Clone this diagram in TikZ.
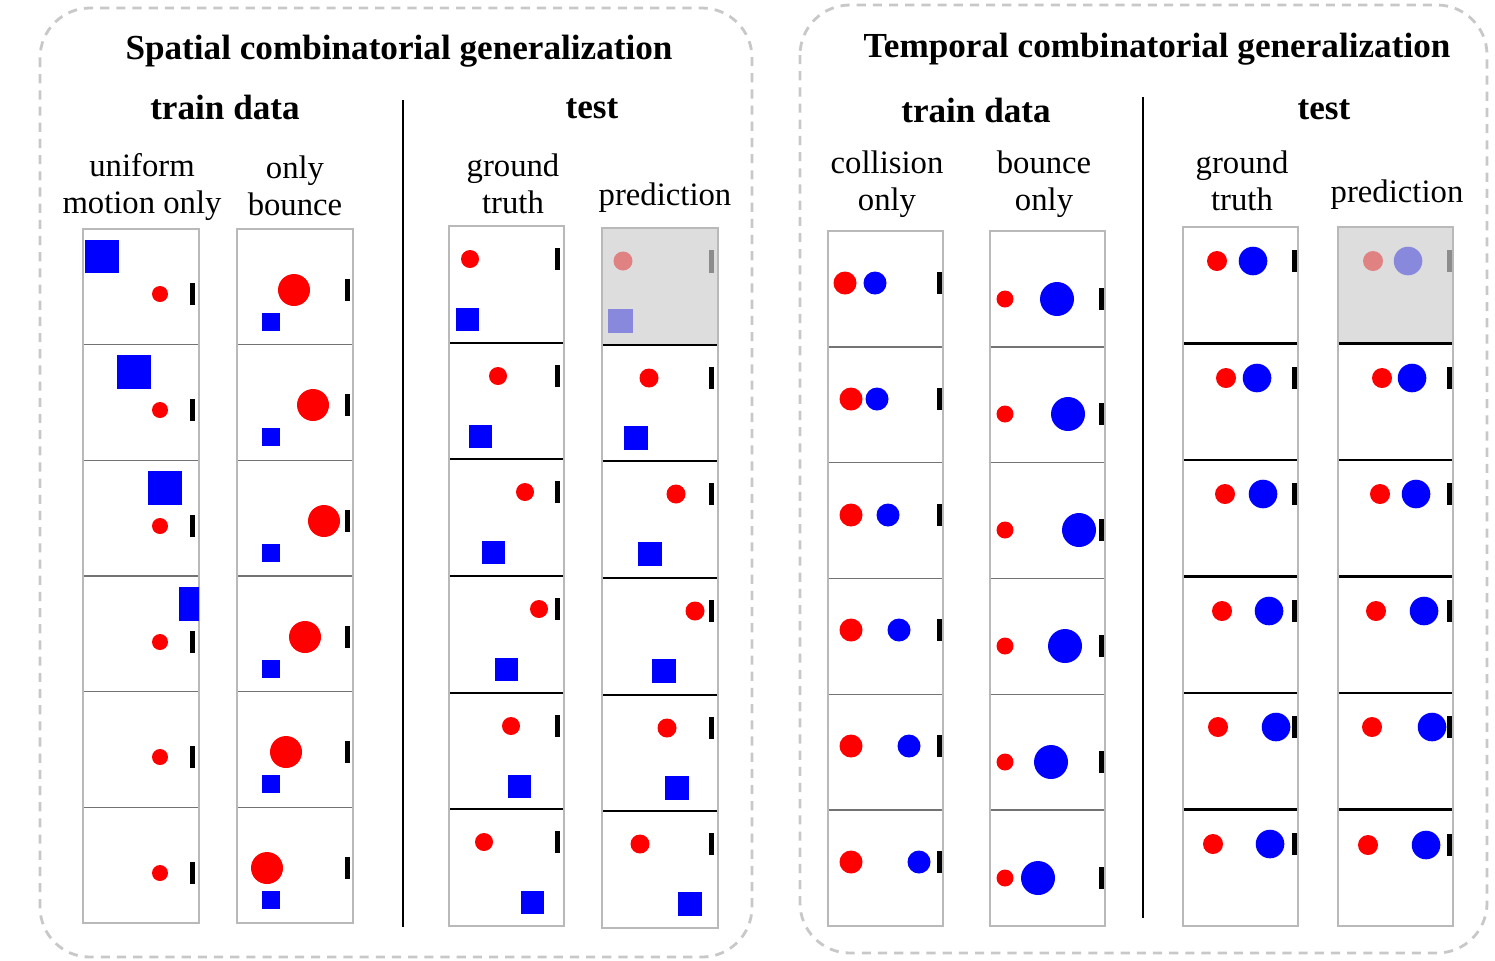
\documentclass[tikz,border=0pt]{standalone}
\usepackage{fontspec}
\setmainfont{Liberation Serif}
\usepackage{tikz}

\definecolor{framegray}{RGB}{185,185,185}
\definecolor{dashgray}{RGB}{200,200,200}
\definecolor{fadered}{RGB}{224,130,130}
\definecolor{fadeblue}{RGB}{136,136,221}
\definecolor{predbg}{RGB}{221,221,221}

\begin{document}
\begin{tikzpicture}[x=0.01cm, y=-0.01cm,
  panel/.style={draw=dashgray, line width=0.8pt, dash pattern=on 2.6pt off 2pt, rounded corners=0.5cm},
  frame/.style={draw=framegray, line width=0.45pt},
  trainsep/.style={draw=black!55, line width=0.4pt},
  testsep/.style={draw=black, line width=0.6pt},
  divider/.style={draw=black, line width=0.8pt},
  redball/.style={fill=red},
  bluebox/.style={fill=blue},
  wall/.style={fill=black},
  title/.style={font=\fontsize{10}{12}\selectfont\bfseries},
  label/.style={font=\fontsize{9.3}{10.4}\selectfont, align=center}]
\useasboundingbox (0,0) rectangle (1495,960);

% dashed panels
\draw[panel] (40,8) rectangle (752,957);
\draw[panel] (800,5) rectangle (1487,953);

% headings
\node[title] (spatial) at (399,51) {Spatial combinatorial generalization};
\node[title] (temporal) at (1157,49) {Temporal combinatorial generalization};
\node[title] (strain) at (225,107) {train data};
\node[title] (stest) at (592,109) {test};
\node[title] (ttrain) at (976,110) {train data};
\node[title] (ttest) at (1324,110) {test};

\node[label] (uniform) at (142,187) {uniform\\motion only};
\node[label] (onlybounce) at (295,186) {only\\bounce};
\node[label] (sgt) at (513,184) {ground\\truth};
\node[label] (spred) at (665,198) {prediction};
\node[label] (collision) at (887,184) {collision\\only};
\node[label] (bounceonly) at (1044,184) {bounce\\only};
\node[label] (tgt) at (1242,181) {ground\\truth};
\node[label] (tpred) at (1397,195) {prediction};

\draw[divider] (403,100) -- (403,927);
\draw[divider] (1143,97) -- (1143,918);

% greyed first prediction frames
\fill[predbg] (602,228) rectangle (718,344);
\fill[predbg] (1338,227) rectangle (1453,343);

% frame columns
\foreach \l/\r/\t/\b/\s in {83/199/229/923/trainsep, 237/353/229/923/trainsep,
    449/564/226/926/testsep, 602/718/228/928/testsep,
    828/943/231/926/trainsep, 990/1105/231/926/trainsep,
    1183/1298/227/926/testsep, 1338/1453/227/926/testsep} {
  \foreach \k in {1,...,5}
    \draw[\s] (\l,{\t+\k*(\b-\t)/6}) -- (\r,{\t+\k*(\b-\t)/6});
  \draw[frame] (\l,\t) rectangle (\r,\b);
}

% uniform motion only
\fill[bluebox] (85,240) rectangle (119,273);
\fill[bluebox] (117,355) rectangle (151,389);
\fill[bluebox] (148,471) rectangle (182,505);
\fill[bluebox] (179,587) rectangle (199,621);
\foreach \py in {294,410,526,642,757,873} {
  \fill[redball] (160,\py) circle (8);
  \fill[wall] (190,\py-11) rectangle (195,\py+11);
}

% only bounce
\foreach \px/\py in {294/290,313/405,324/521,305/637,286/752,267/868} {
  \fill[redball] (\px,\py) circle (16);
  \fill[bluebox] (262,\py+23) rectangle (280,\py+41);
  \fill[wall] (345,\py-11) rectangle (350,\py+11);
}

% spatial ground truth
\foreach \rx/\bx/\py in {470/467/259,498/480/376,525/493/492,539/506/609,511/519/726,484/532/842} {
  \fill[redball] (\rx,\py) circle (9);
  \fill[bluebox] (\bx-11.5,\py+48.5) rectangle (\bx+11.5,\py+71.5);
  \fill[wall] (555,\py-11) rectangle (560,\py+11);
}

% spatial prediction
\fill[fadered] (623,261) circle (9.5);
\fill[fadeblue] (608,309) rectangle (633,333);
\fill[black!45] (709,250) rectangle (714,273);
\foreach \rx/\bx/\py in {649/636/378,676/650/494,695/664/611,667/677/728,640/690/844} {
  \fill[redball] (\rx,\py) circle (9.5);
  \fill[bluebox] (\bx-12,\py+48) rectangle (\bx+12,\py+72);
  \fill[wall] (709,\py-11) rectangle (714,\py+11);
}

% collision only
\foreach \rx/\bx/\py in {845/875/283,851/877/399,851/888/515,851/899/630,851/909/746,851/919/862} {
  \fill[redball] (\rx,\py) circle (11.5);
  \fill[bluebox] (\bx,\py) circle (11.5);
  \fill[wall] (937,\py-11) rectangle (941.5,\py+11);
}

% bounce only
\foreach \bx/\py in {1057/299,1068/414,1079/530,1065/646,1051/762,1038/878} {
  \fill[redball] (1005,\py) circle (8.5);
  \fill[bluebox] (\bx,\py) circle (17);
  \fill[wall] (1099,\py-11) rectangle (1103.5,\py+11);
}

% temporal ground truth
\foreach \rx/\bx/\py in {1217/1253/261,1226/1257/378,1225/1263/494,1222/1269/611,1218/1276/727,1213/1270/844} {
  \fill[redball] (\rx,\py) circle (10);
  \fill[bluebox] (\bx,\py) circle (14.3);
  \fill[wall] (1292,\py-11) rectangle (1297,\py+11);
}

% temporal prediction
\fill[fadered] (1373,261) circle (10);
\fill[fadeblue] (1408,261) circle (14.3);
\fill[black!45] (1447,250) rectangle (1452,272);
\foreach \rx/\bx/\py in {1382/1412/378,1380/1416/494,1376/1424/611,1372/1432/727,1368/1426/845} {
  \fill[redball] (\rx,\py) circle (10);
  \fill[bluebox] (\bx,\py) circle (14.3);
  \fill[wall] (1447,\py-11) rectangle (1452,\py+11);
}
\end{tikzpicture}
\end{document}
